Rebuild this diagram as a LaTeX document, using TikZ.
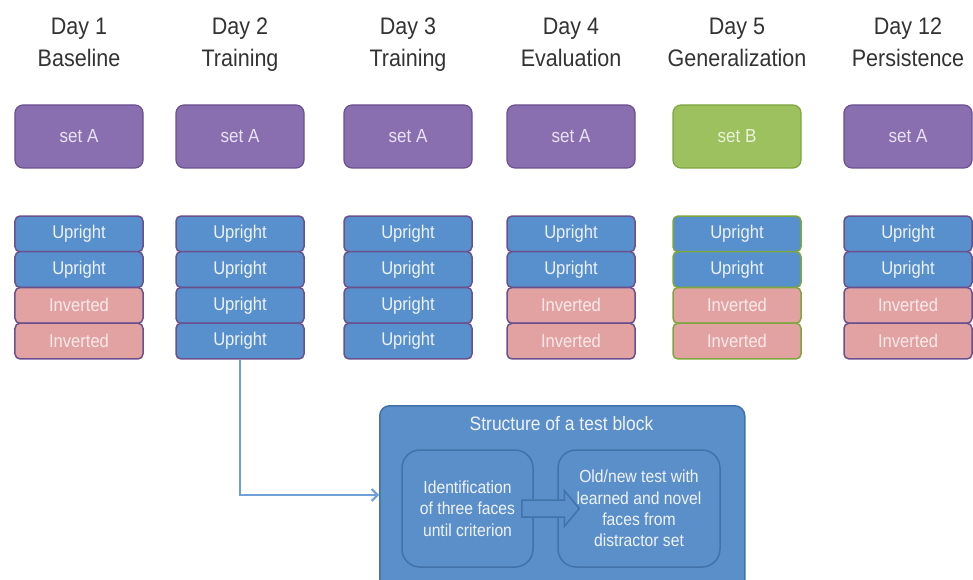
\documentclass[tikz,border=0pt]{standalone}
\usepackage{fontspec}
\setmainfont{Liberation Sans}[FakeStretch=0.9]
\usetikzlibrary{arrows.meta,calc}
\definecolor{purpf}{HTML}{8A6FB0}
\definecolor{purpd}{HTML}{6B5090}
\definecolor{greenf}{HTML}{9CC15E}
\definecolor{greend}{HTML}{7EA63E}
\definecolor{bluef}{HTML}{5790CC}
\definecolor{pinkf}{HTML}{E3A2A2}
\definecolor{blocf}{HTML}{5B8FC9}
\definecolor{blocd}{HTML}{4272AA}
\definecolor{connc}{HTML}{6E9FD6}
\definecolor{titlegray}{HTML}{333333}
\definecolor{settxt}{HTML}{E8E2F2}
\definecolor{setbtxt}{HTML}{EAF2DC}
\definecolor{uprtxt}{HTML}{EEF3FA}
\definecolor{invtxt}{HTML}{F9E9E9}
\tikzset{
  daylbl/.style={text=titlegray, font=\fontsize{24}{30}\selectfont, inner sep=0pt, anchor=base},
  setbox/.style={rounded corners=8bp, minimum width=128bp, minimum height=63bp, line width=1.2bp, inner sep=0pt, font=\fontsize{19}{22}\selectfont},
  rowbox/.style={rounded corners=5bp, minimum width=128bp, minimum height=35.75bp, line width=1.5bp, inner sep=0pt, font=\fontsize{18.5}{22}\selectfont},
  upr/.style={rowbox, fill=bluef, text=uprtxt},
  inv/.style={rowbox, fill=pinkf, text=invtxt},
  blockbox/.style={draw=blocd, fill=blocf, line width=1.5bp},
  innerbox/.style={blockbox, rounded corners=18bp, align=center, text=uprtxt, font=\fontsize{17.5}{21.5}\selectfont, inner sep=0pt},
  conn/.style={draw=connc, line width=2bp, -{Straight Barb[length=6bp,width=12bp,line width=2bp]}}
}
\begin{document}
\begin{tikzpicture}[x=1bp,y=-1bp]
\useasboundingbox (0,0) rectangle (973,580);
\clip (0,0) rectangle (973,580);
\fill[white] (0,0) rectangle (973,580);
% columns
\foreach \i/\x/\dd/\ds/\setc/\setd/\sett/\stext/\c/\ct in {
  1/79/Day 1/Baseline/purpf/purpd/settxt/set A/inv/Inverted,
  2/240/Day 2/Training/purpf/purpd/settxt/set A/upr/Upright,
  3/408/Day 3/Training/purpf/purpd/settxt/set A/upr/Upright,
  4/571/Day 4/Evaluation/purpf/purpd/settxt/set A/inv/Inverted,
  5/737/Day 5/Generalization/greenf/greend/setbtxt/set B/inv/Inverted,
  6/908/Day 12/Persistence/purpf/purpd/settxt/set A/inv/Inverted}{
  \node[daylbl] (d\i) at (\x,35) {\dd};
  \node[daylbl] (e\i) at (\x,67) {\ds};
  \node[setbox, fill=\setc, draw=\setd, text=\sett] (s\i) at (\x,136.5) {\stext};
  \node[upr, draw=\setd] (r\i a) at (\x,233.9) {Upright};
  \node[upr, draw=\setd] (r\i b) at (\x,269.6) {Upright};
  \node[\c, draw=\setd] (r\i c) at (\x,305.4) {\ct};
  \node[\c, draw=\setd] (r\i d) at (\x,341.1) {\ct};
}
% test block
\node[blockbox, rounded corners=10bp, minimum width=365bp, minimum height=200bp, anchor=north west, inner sep=0pt] (tb) at (379,405) {};
\node[text=uprtxt, font=\fontsize{19.5}{22}\selectfont, inner sep=0pt] (tbt) at (561.5,424) {Structure of a test block};
\node[innerbox, minimum width=131bp, minimum height=117bp] (ib1) at (467.5,508.5) {Identification\\of three faces\\until criterion};
\node[innerbox, minimum width=162bp, minimum height=117bp] (ib2) at (639,508.5) {Old/new test with\\learned and novel\\faces from\\distractor set};
% block arrow between inner boxes
\draw[blockbox, line join=miter] ($(ib1.east)+(-12,-8.5)$) -- ($(ib2.west)+(7,-8.5)$) -- ($(ib2.west)+(7,-18)$) -- ($(ib2.west)+(22,0)$) -- ($(ib2.west)+(7,18)$) -- ($(ib2.west)+(7,8.5)$) -- ($(ib1.east)+(-12,8.5)$) -- cycle;
% connector
\draw[conn] (r2d.south) |- ($(tb.north west)+(0,90)$);
\end{tikzpicture}
\end{document}
